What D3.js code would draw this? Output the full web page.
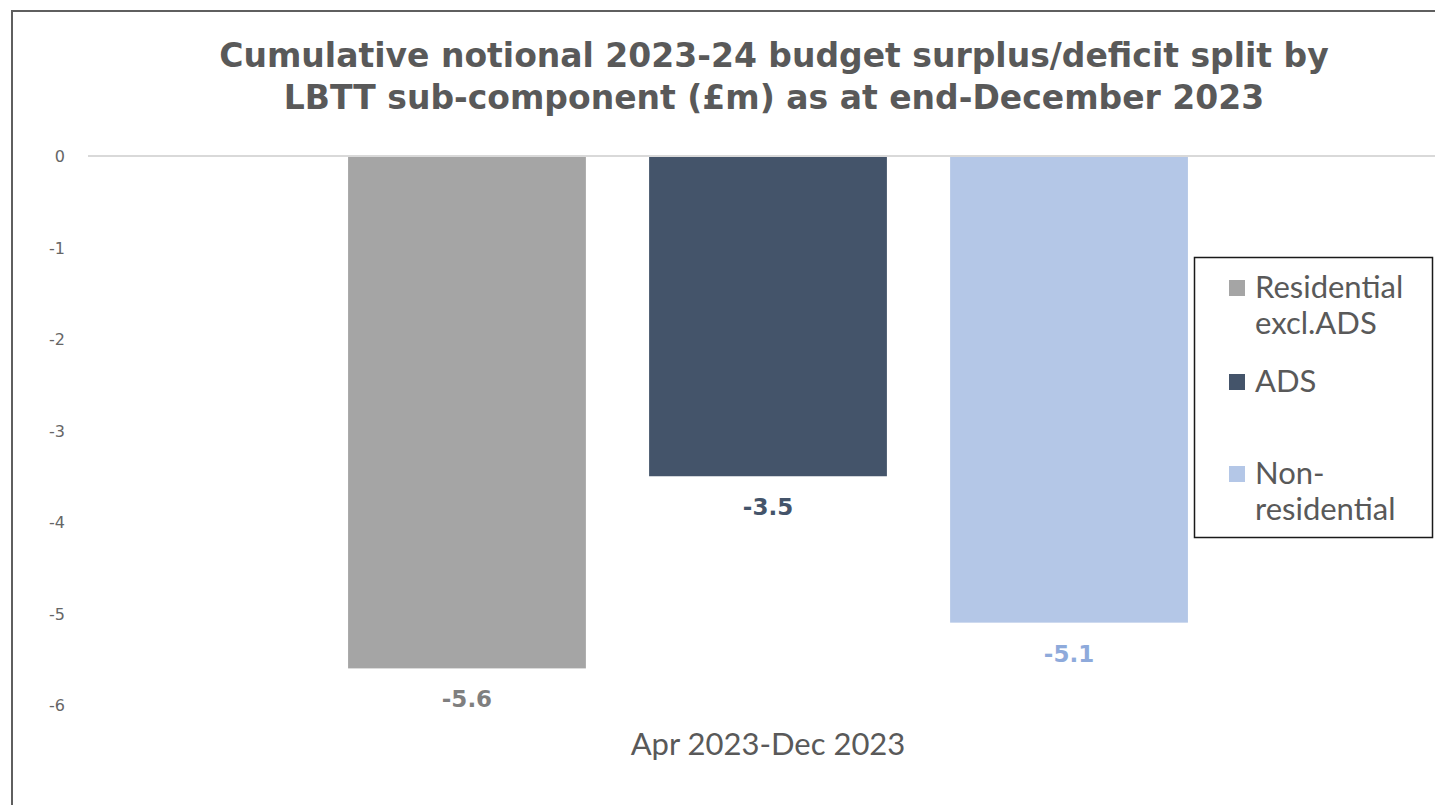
<!DOCTYPE html>
<html>
<head>
<meta charset="utf-8">
<script src="https://cdn.jsdelivr.net/npm/d3@7"></script>
<style>
  html, body { margin: 0; padding: 0; background: #fff; }
  svg { display: block; }
</style>
</head>
<body>
<svg id="chart" width="1435" height="805"></svg>
<script>
// Chart data
const categories = ["Apr 2023-Dec 2023"];
const seriesNames = ["Residential excl.ADS", "ADS", "Non-residential"];
const legendLines = [["Residential", "excl.ADS"], ["ADS"], ["Non-", "residential"]];
const seriesValues = [-5.6, -3.5, -5.1];
const seriesColors = ["#a5a5a5", "#44546a", "#b4c7e7"];
const labelColors = ["#7f7f7f", "#44546a", "#8eaadb"];
const yTicks = [0, -1, -2, -3, -4, -5, -6];
const titleLines = [
  "Cumulative notional 2023-24 budget surplus/deficit split by",
  "LBTT sub-component (£m) as at end-December 2023"
];

const svg = d3.select("#chart");

// Outer chart frame
svg.append("rect")
  .attr("x", 12).attr("y", 11)
  .attr("width", 1460).attr("height", 830)
  .attr("fill", "#fff")
  .attr("stroke", "#5f5f5f")
  .attr("stroke-width", 2);

// Title
svg.append("g").selectAll("text")
  .data(titleLines)
  .join("text")
  .attr("x", 774)
  .attr("y", (d, i) => 67 + i * 42)
  .attr("text-anchor", "middle")
  .attr("font-family", "'DejaVu Sans', Verdana, sans-serif")
  .attr("font-weight", "bold")
  .attr("font-size", 33)
  .attr("fill", "#595959")
  .text(d => d);

// Scales
const plotLeft = 88, plotRight = 1448;
const x0 = d3.scaleBand()
  .domain(categories)
  .range([plotLeft, plotRight])
  .paddingInner(0)
  .paddingOuter(0.253);

const x1 = d3.scaleBand()
  .domain(seriesNames)
  .range([0, x0.bandwidth()])
  .paddingInner(0.21)
  .paddingOuter(0.105);

const y = d3.scaleLinear()
  .domain([-6, 0])
  .range([705, 156]);

// Y tick labels (no axis line)
const yAxis = d3.axisLeft(y)
  .tickValues(yTicks)
  .tickFormat(d => String(d))
  .tickSize(0)
  .tickPadding(0);
const yg = svg.append("g")
  .attr("transform", "translate(65,0)")
  .call(yAxis);
yg.select(".domain").remove();
yg.selectAll("text")
  .attr("font-family", "'DejaVu Sans', Verdana, sans-serif")
  .attr("font-size", 16)
  .attr("fill", "#666666")
  .attr("dy", "0.35em");

// Bars
const cat = categories[0];
const barData = seriesNames.map((s, i) => ({ name: s, value: seriesValues[i], i }));

svg.append("g").selectAll("rect")
  .data(barData)
  .join("rect")
  .attr("x", d => x0(cat) + x1(d.name))
  .attr("width", x1.bandwidth())
  .attr("y", d => y(Math.max(0, d.value)))
  .attr("height", d => Math.abs(y(d.value) - y(0)))
  .attr("fill", d => seriesColors[d.i]);

// Zero line
svg.append("line")
  .attr("x1", plotLeft).attr("x2", plotRight)
  .attr("y1", y(0)).attr("y2", y(0))
  .attr("stroke", "#d9d9d9")
  .attr("stroke-width", 2);

// Data labels below bar ends
svg.append("g").selectAll("text")
  .data(barData)
  .join("text")
  .attr("x", d => x0(cat) + x1(d.name) + x1.bandwidth() / 2)
  .attr("y", d => y(d.value) + 39)
  .attr("text-anchor", "middle")
  .attr("font-family", "'DejaVu Sans', Verdana, sans-serif")
  .attr("font-size", 23)
  .attr("font-weight", "bold")
  .attr("fill", d => labelColors[d.i])
  .text(d => d.value.toFixed(1));

// Category axis label
svg.append("text")
  .attr("x", x0(cat) + x0.bandwidth() / 2)
  .attr("y", 755)
  .attr("text-anchor", "middle")
  .attr("font-family", "Lato, 'Liberation Sans', sans-serif")
  .attr("font-size", 31)
  .attr("fill", "#595959")
  .text(cat);

// Legend
const legend = svg.append("g");
legend.append("rect")
  .attr("x", 1194.5).attr("y", 257.5)
  .attr("width", 238).attr("height", 280)
  .attr("fill", "#fff")
  .attr("stroke", "#1a1a1a")
  .attr("stroke-width", 1.5);

const legendTops = [298, 392, 484];
const items = legend.selectAll("g.item")
  .data(barData)
  .join("g")
  .attr("class", "item")
  .attr("transform", d => `translate(1229,${legendTops[d.i]})`);

items.append("rect")
  .attr("x", 0).attr("y", -18)
  .attr("width", 16).attr("height", 16)
  .attr("fill", d => seriesColors[d.i]);

items.append("text")
  .attr("x", 26)
  .attr("font-family", "Lato, 'Liberation Sans', sans-serif")
  .attr("font-size", 31)
  .attr("fill", "#595959")
  .selectAll("tspan")
  .data(d => legendLines[d.i])
  .join("tspan")
  .attr("x", 26)
  .attr("dy", (d, j) => j === 0 ? 0 : 36)
  .text(d => d);
</script>
</body>
</html>
